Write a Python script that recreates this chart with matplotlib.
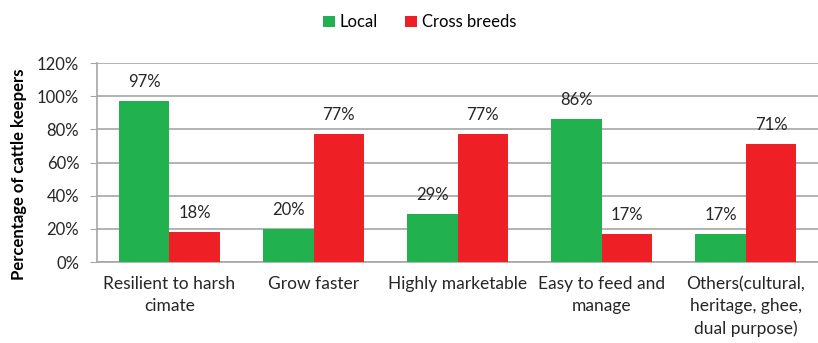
import numpy as np
import matplotlib.pyplot as plt
from matplotlib.ticker import FuncFormatter

# ---- data ----
categories = ['Resilient to harsh\ncimate', 'Grow faster', 'Highly marketable',
              'Easy to feed and\nmanage', 'Others(cultural,\nheritage, ghee,\ndual purpose)']
local = [97, 20, 29, 86, 17]
cross = [18, 77, 77, 17, 71]
series_names = ['Local', 'Cross breeds']

green = '#21B14F'
red = '#EE1F25'
txt = '#262626'

plt.rcParams['font.family'] = ['Lato', 'DejaVu Sans']

fig = plt.figure(figsize=(8.18, 3.43), dpi=100)
ax = fig.add_axes([0.119, 0.236, 0.881, 0.58])

x = np.arange(len(categories))
w = 0.35
b1 = ax.bar(x - w/2, local, w, color=green, label=series_names[0], zorder=3)
b2 = ax.bar(x + w/2, cross, w, color=red, label=series_names[1], zorder=3)

for bars in (b1, b2):
    for rect in bars:
        h = rect.get_height()
        ax.annotate('%d%%' % h, (rect.get_x() + rect.get_width()/2, h),
                    xytext=(0, 8), textcoords='offset points',
                    ha='center', va='bottom', fontsize=12, color=txt, zorder=4)

ax.set_xlim(-0.5, len(categories) - 0.5)
ax.set_ylim(0, 120)
ax.set_yticks(np.arange(0, 121, 20))
ax.yaxis.set_major_formatter(FuncFormatter(lambda v, p: '%d%%' % v))
ax.grid(axis='y', color='#A6A6A6', linewidth=1.2, zorder=0)
ax.set_xticks(x)
ax.set_xticklabels(categories, fontsize=12.5, color=txt, linespacing=1.45)
ax.tick_params(axis='x', length=0, pad=10)
ax.tick_params(axis='y', length=5, color='#A6A6A6', labelsize=12, labelcolor=txt, pad=8)

for s in ['top', 'right']:
    ax.spines[s].set_visible(False)
for s in ['left', 'bottom']:
    ax.spines[s].set_color('#A6A6A6')
    ax.spines[s].set_linewidth(1.2)

ax.set_ylabel('Percentage of cattle keepers', fontsize=12, fontweight='bold', va='center')
ax.yaxis.set_label_coords(-0.109, 0.44)

fig.legend(handles=[b1, b2], loc='center', bbox_to_anchor=(0.513, 0.935), ncol=2,
           frameon=False, fontsize=12, handlelength=0.7, handleheight=0.7,
           handletextpad=0.3, columnspacing=1.6)

plt.savefig('out.png', dpi=100)
